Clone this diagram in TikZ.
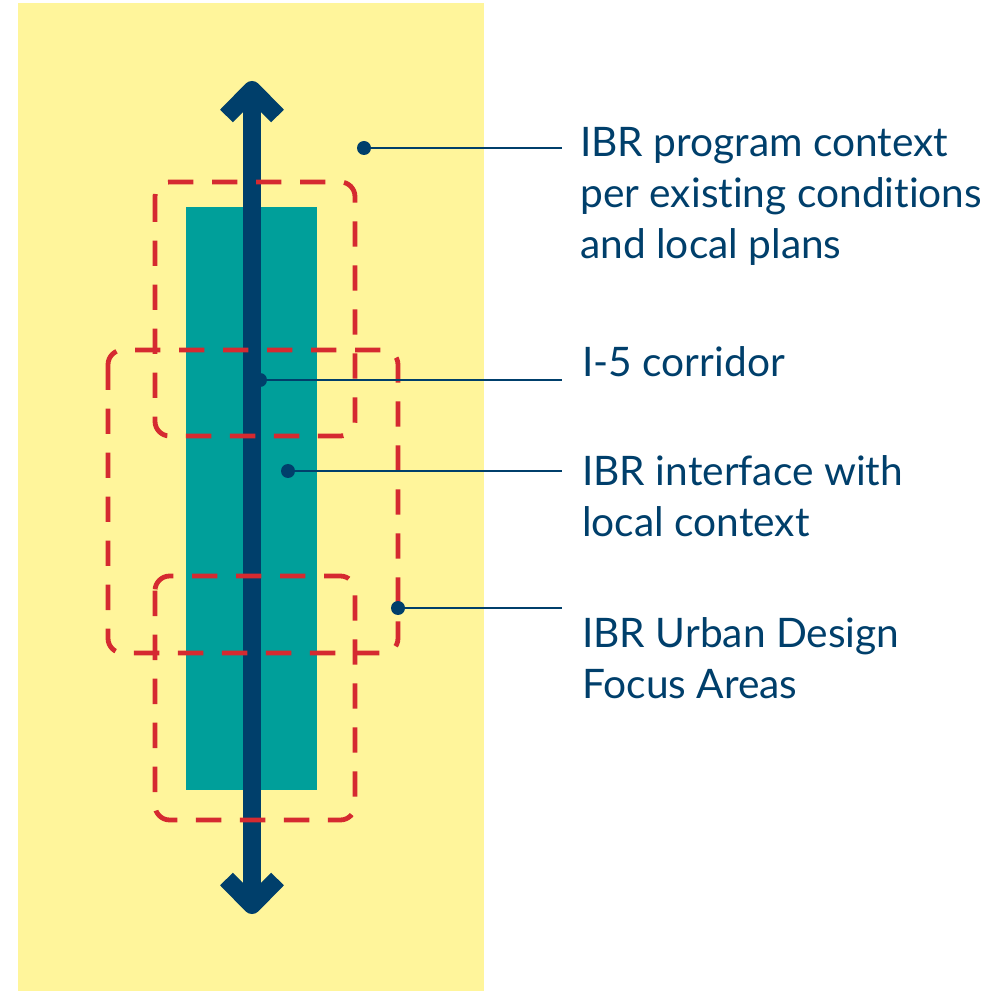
\documentclass[tikz,border=0pt]{standalone}
\usepackage{fontspec}
\setmainfont[Ligatures={NoCommon,NoRare}]{Lato}
\usepackage{tikz}

\definecolor{ibryellow}{HTML}{FFF59B}
\definecolor{ibrteal}{HTML}{009F9A}
\definecolor{ibrblue}{HTML}{003F6B}
\definecolor{ibrred}{HTML}{D52A30}

\begin{document}
\begin{tikzpicture}[x=0.75pt,y=-0.75pt,line join=round]
  \tikzstyle{focus}=[draw=ibrred,line width=3.6pt,rounded corners=11pt,
                     dash pattern=on 19pt off 14pt]
  \tikzstyle{dot}=[circle,fill=ibrblue,inner sep=0pt,minimum size=10.5pt]
  \tikzstyle{leader}=[draw=ibrblue,line width=2.2pt]
  \tikzstyle{label}=[anchor=base west,inner sep=0pt,align=left,text=ibrblue,
                     font=\fontsize{30.5}{38.25}\selectfont]
  \tikzstyle{road}=[draw=ibrblue,line width=13.5pt]

  \useasboundingbox (0,0) rectangle (1008,991);

  % context and corridor area
  \fill[ibryellow] (18,3) rectangle (484,991);
  \fill[ibrteal] (186,207) rectangle (317,790);

  % I-5
  \draw[road] (252,92) -- (252,903);
  \draw[road] (226.5,116) -- (252,90) -- (277.5,116);
  \draw[road] (226.5,879) -- (252,905) -- (277.5,879);

  % focus areas
  \draw[focus] (155,182) rectangle (355,436);
  \draw[focus] (108,350) rectangle (398,653);
  \draw[focus] (155,576) rectangle (355,820);

  \node[dot] (ctx)  at (364,148) {};
  \node[dot] (cor)  at (260,380) {};
  \node[dot] (intf) at (288,471) {};
  \node[dot] (uda)  at (398,608) {};

  \coordinate (ctx-e)  at (562,148);
  \coordinate (cor-e)  at (562,380);
  \coordinate (intf-e) at (562,471);
  \coordinate (uda-e)  at (562,608);

  \draw[leader] (ctx) -- (ctx-e);
  \draw[leader] (cor) -- (cor-e);
  \draw[leader] (intf) -- (intf-e);
  \draw[leader] (uda) -- (uda-e);

  % base anchor sits on the last line
  \node[label] (ctx-l)  at (580,259) {IBR program context\\per existing conditions\\and local plans};
  \node[label] (cor-l)  at (582,377) {I-5 corridor};
  \node[label] (intf-l) at (582,537) {IBR interface with\\local context};
  \node[label] (uda-l)  at (582,698) {IBR Urban Design\\Focus Areas};
\end{tikzpicture}
\end{document}
